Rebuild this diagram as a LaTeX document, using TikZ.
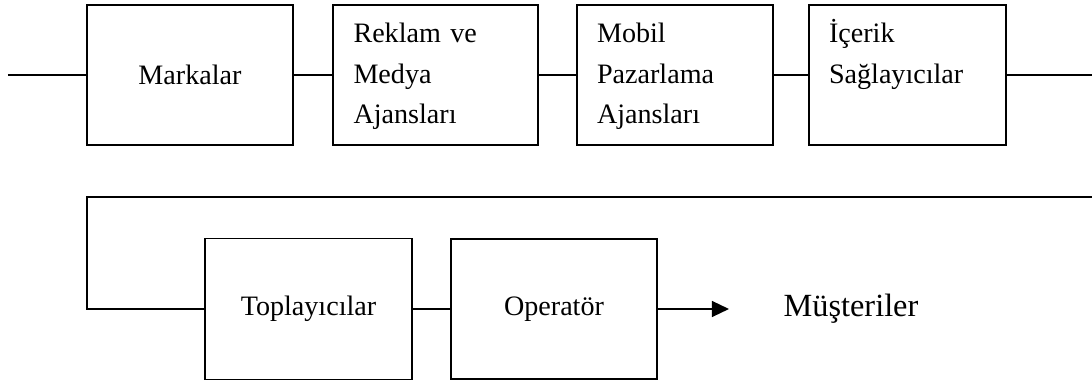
\documentclass[tikz,border=0pt]{standalone}
\usepackage{fontspec}
\setmainfont{Liberation Serif}
\usetikzlibrary{arrows.meta}

\tikzset{
  kutu/.style={draw, line width=1.3pt, minimum height=3.5cm, minimum width=5.15cm,
    font=\fontsize{20}{29}\selectfont},
  sol/.style={align=left, inner xsep=0.5cm},
  hat/.style={line width=1.3pt}
}

\begin{document}
\begin{tikzpicture}
			\useasboundingbox (0,0) rectangle (27.3,9.675);

			% Ust sira
			\node[kutu] (markalar) at (4.75,7.8) {Markalar};
			\node[kutu, sol, minimum width=5.125cm, text width=4.1cm] (reklam) at (10.8875,7.8) {\strut Reklam ve\\Medya\\Ajansları\strut};
			\node[kutu, sol, minimum width=4.9cm, text width=3.9cm] (mobil) at (16.875,7.8) {\strut Mobil\\Pazarlama\\Ajansları\strut};
			\node[kutu, sol, minimum width=4.925cm, text width=3.925cm] (icerik) at (22.6875,7.8) {\strut İçerik\\Sağlayıcılar\\\strut};

			% Alt sira
			\node[kutu, minimum width=5.175cm, minimum height=3.525cm] (toplayici) at (7.7125,1.95) {Toplayıcılar};
			\node[kutu] (operator) at (13.85,1.95) {Operatör};
			\node[font=\fontsize{23}{28}\selectfont] (musteri) at (21.275,1.95) {Müşteriler};

			% Bos uclar
			\coordinate (giris) at (0.2,7.8);
			\coordinate (cikis) at (27.3,7.8);
			\coordinate (donusR) at (27.3,4.75);
			\coordinate (donusL) at (2.175,4.75);
			\coordinate (ok) at (18.225,1.95);

			% Baglantilar
			\draw[hat] (giris) -- (markalar);
			\draw[hat] (markalar) -- (reklam);
			\draw[hat] (reklam) -- (mobil);
			\draw[hat] (mobil) -- (icerik);
			\draw[hat] (icerik) -- (cikis);
			\draw[hat] (donusR) -- (donusL) |- (toplayici);
			\draw[hat] (toplayici) -- (operator);
			\draw[hat, -{Triangle[length=4.3mm, width=4mm]}] (operator) -- (ok);
\end{tikzpicture}
\end{document}
